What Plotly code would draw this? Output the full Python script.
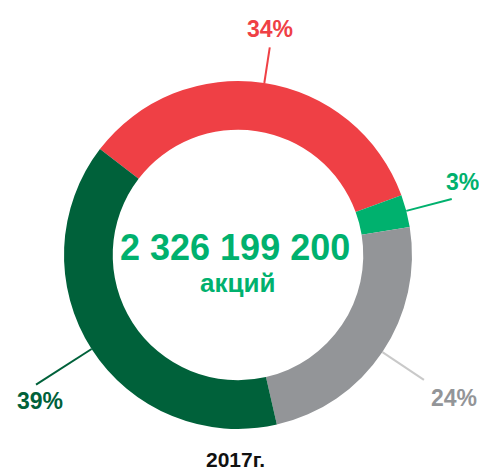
import math
import plotly.graph_objects as go

# ---- data ----
labels = ["Группа A", "Группа B", "Группа C", "Группа D"]
values = [34, 3, 24, 39]
pct_labels = ["34%", "3%", "24%", "39%"]
center_total = "2 326 199 200"
center_unit = "акций"
year_label = "2017г."

# ---- style ----
colors = ["#EF4045", "#00B16E", "#939598", "#00613A"]
line_colors = ["#EF4045", "#00B16E", "#C9C9C9", "#00613A"]
text_green = "#00B16E"
FONT = "Liberation Sans, Arial, sans-serif"

W, H = 479, 471
cx, cy, R = 238, 255, 174          # pie centre / outer radius in pixels
hole = 0.72
rotation = 307.5
line_len = [36, 47, 50, 66]          # leader line length beyond outer edge
label_off = [(0, -18), (11, -17), (30, 18), (4, 16)]  # label centre relative to line end

def px(x):
    return x / W

def py(y):
    return 1 - y / H

fig = go.Figure(go.Pie(
    labels=labels, values=values, sort=False, direction="clockwise",
    rotation=rotation, hole=hole, textinfo="none", hoverinfo="label+percent",
    marker=dict(colors=colors, line=dict(width=0)),
    domain=dict(x=[px(cx - R), px(cx + R)], y=[py(cy + R), py(cy - R)]),
    showlegend=False,
))

total = sum(values)
cum = 0
shapes, annotations = [], []
for i, v in enumerate(values):
    mid = math.radians(rotation + 360 * (cum + v / 2) / total)
    cum += v
    x0, y0 = cx + R * math.sin(mid), cy - R * math.cos(mid)
    r1 = R + line_len[i]
    x1, y1 = cx + r1 * math.sin(mid), cy - r1 * math.cos(mid)
    shapes.append(dict(type="line", xref="paper", yref="paper",
                       x0=px(x0), y0=py(y0), x1=px(x1), y1=py(y1),
                       line=dict(color=line_colors[i], width=2)))
    dx, dy = label_off[i]
    annotations.append(dict(text="<b>%s</b>" % pct_labels[i], xref="paper", yref="paper",
                            x=px(x1 + dx), y=py(y1 + dy), xanchor="center", yanchor="middle",
                            showarrow=False,
                            font=dict(family=FONT, size=23, color=colors[i])))

annotations.append(dict(text="<b>%s</b>" % center_total, xref="paper", yref="paper",
                        x=px(cx - 3), y=py(247), xanchor="center", yanchor="middle",
                        showarrow=False, font=dict(family=FONT, size=36, color=text_green)))
annotations.append(dict(text="<b>%s</b>" % center_unit, xref="paper", yref="paper",
                        x=px(cx - 1), y=py(283), xanchor="center", yanchor="middle",
                        showarrow=False, font=dict(family=FONT, size=26, color=text_green)))
annotations.append(dict(text="<b>%s</b>" % year_label, xref="paper", yref="paper",
                        x=px(235), y=py(459), xanchor="center", yanchor="middle",
                        showarrow=False, font=dict(family=FONT, size=21, color="#111111")))

fig.update_layout(width=W, height=H, margin=dict(l=0, r=0, t=0, b=0),
                  paper_bgcolor="white", plot_bgcolor="white",
                  shapes=shapes, annotations=annotations)

fig.write_html("out.html", config={"displayModeBar": False},
               post_script="document.body.style.margin='0';document.body.style.overflow='hidden';")
